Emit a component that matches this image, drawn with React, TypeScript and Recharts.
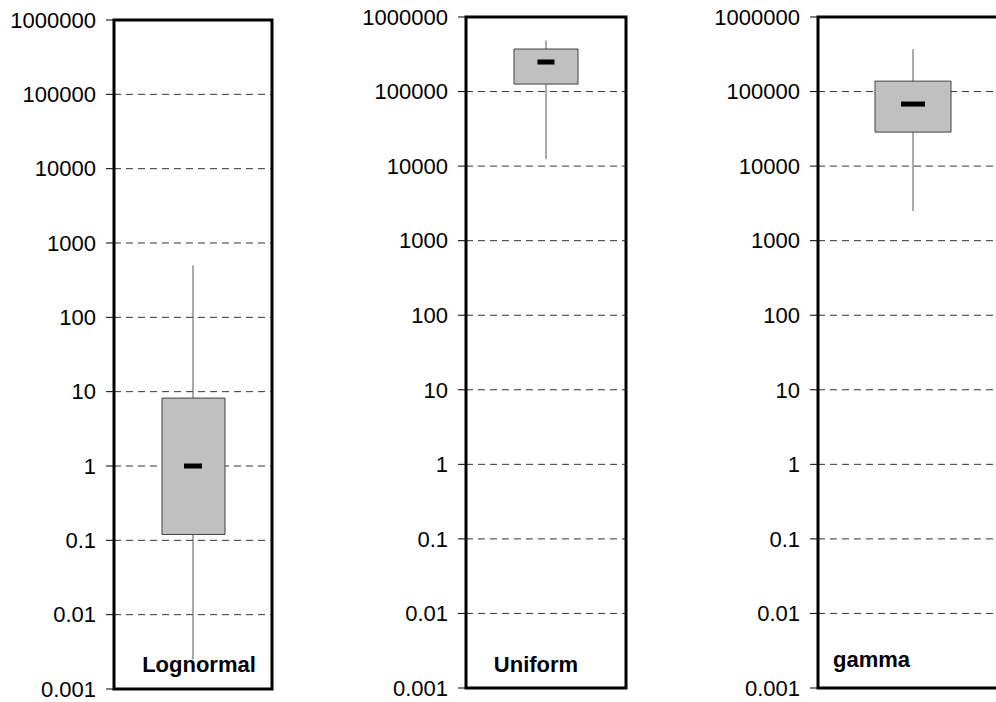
import React from 'react'
import {
  ComposedChart,
  Bar,
  Scatter,
  XAxis,
  YAxis,
  CartesianGrid,
  ReferenceArea
} from 'recharts'

// distributions, one panel each
const panelNames = ['Lognormal', 'Uniform', 'gamma']
const whiskerLow = [0.0025, 12400, 2500]
const whiskerHigh = [500, 480000, 370000]
const boxLow = [0.12, 126000, 28600]
const boxHigh = [8.2, 372000, 138000]
const medians = [1, 249000, 68000]
const yTicks = [0.001, 0.01, 0.1, 1, 10, 100, 1000, 10000, 100000, 1000000]

const FONT = '"Liberation Sans", Arial, sans-serif'

// where each panel sits on the page
const layouts = [
  { left: 0, axisW: 114, plotW: 158, top: 20, bottom: 13, boxW: 63, medW: 18, labelX: 199, labelY: 672, anchor: 'middle' },
  { left: 350, axisW: 116, plotW: 160, top: 17, bottom: 14, boxW: 64, medW: 17, labelX: 536, labelY: 672, anchor: 'middle' },
  { left: 700, axisW: 118, plotW: 190, top: 17, bottom: 14, boxW: 76, medW: 24, labelX: 833, labelY: 667, anchor: 'start' }
]

const Whisker = (props: any) => {
  const { x, y, width, height } = props
  const cx = x + width / 2
  return <line x1={cx} x2={cx} y1={y} y2={y + height} stroke="#555" strokeWidth={1} />
}

const makeMedian = (w: number) => (props: any) => {
  const { cx, cy } = props
  return <rect x={cx - w / 2} y={cy - 2.5} width={w} height={5} fill="#000" />
}

function Panel({ index }: { index: number }) {
  const l = layouts[index]
  const data = [
    {
      name: panelNames[index],
      whisker: [whiskerLow[index], whiskerHigh[index]],
      box: [boxLow[index], boxHigh[index]],
      median: medians[index]
    }
  ]
  const width = l.axisW + l.plotW + 10
  return (
    <div style={{ position: 'absolute', left: l.left, top: 0 }}>
      <ComposedChart
        width={width}
        height={702}
        data={data}
        margin={{ top: l.top, bottom: l.bottom, left: 0, right: 10 }}
        style={{ fontFamily: FONT }}
      >
        <CartesianGrid vertical={false} stroke="#333" strokeDasharray="7 5" yAxisId="y" xAxisId="b" />
        <XAxis xAxisId="w" dataKey="name" type="category" hide />
        <XAxis xAxisId="b" dataKey="name" type="category" hide />
        <YAxis
          yAxisId="y"
          type="number"
          scale="log"
          domain={[0.001, 1000000]}
          ticks={yTicks}
          allowDataOverflow
          width={l.axisW}
          axisLine={false}
          tickLine={{ stroke: '#000' }}
          tickSize={8}
          tickMargin={10}
          tick={{ fill: '#000', fontSize: 22, fontFamily: FONT }}
          tickFormatter={(v: number) => String(v)}
          interval={0}
        />
        <ReferenceArea
          xAxisId="b"
          yAxisId="y"
          y1={0.001}
          y2={1000000}
          fill="none"
          stroke="#000"
          strokeWidth={3}
          ifOverflow="visible"
        />
        <Bar
          xAxisId="w"
          yAxisId="y"
          dataKey="whisker"
          barSize={10}
          shape={<Whisker />}
          isAnimationActive={false}
        />
        <Bar
          xAxisId="b"
          yAxisId="y"
          dataKey="box"
          barSize={l.boxW}
          fill="#c0c0c0"
          stroke="#404040"
          strokeWidth={1}
          isAnimationActive={false}
        />
        <Scatter
          xAxisId="b"
          yAxisId="y"
          dataKey="median"
          shape={makeMedian(l.medW)}
          isAnimationActive={false}
        />
      </ComposedChart>
    </div>
  )
}

export default function App() {
  return (
    <div
      style={{
        position: 'absolute',
        left: 0,
        top: 0,
        width: 996,
        height: 702,
        overflow: 'hidden',
        background: '#fff'
      }}
    >
      {layouts.map((_, i) => (
        <Panel key={i} index={i} />
      ))}
      <svg
        width={996}
        height={702}
        style={{ position: 'absolute', left: 0, top: 0, pointerEvents: 'none' }}
      >
        {layouts.map((l, i) => (
          <text
            key={i}
            x={l.labelX}
            y={l.labelY}
            textAnchor={l.anchor as any}
            fontFamily={FONT}
            fontWeight="bold"
            fontSize={22}
            fill="#000"
          >
            {panelNames[i]}
          </text>
        ))}
      </svg>
    </div>
  )
}
